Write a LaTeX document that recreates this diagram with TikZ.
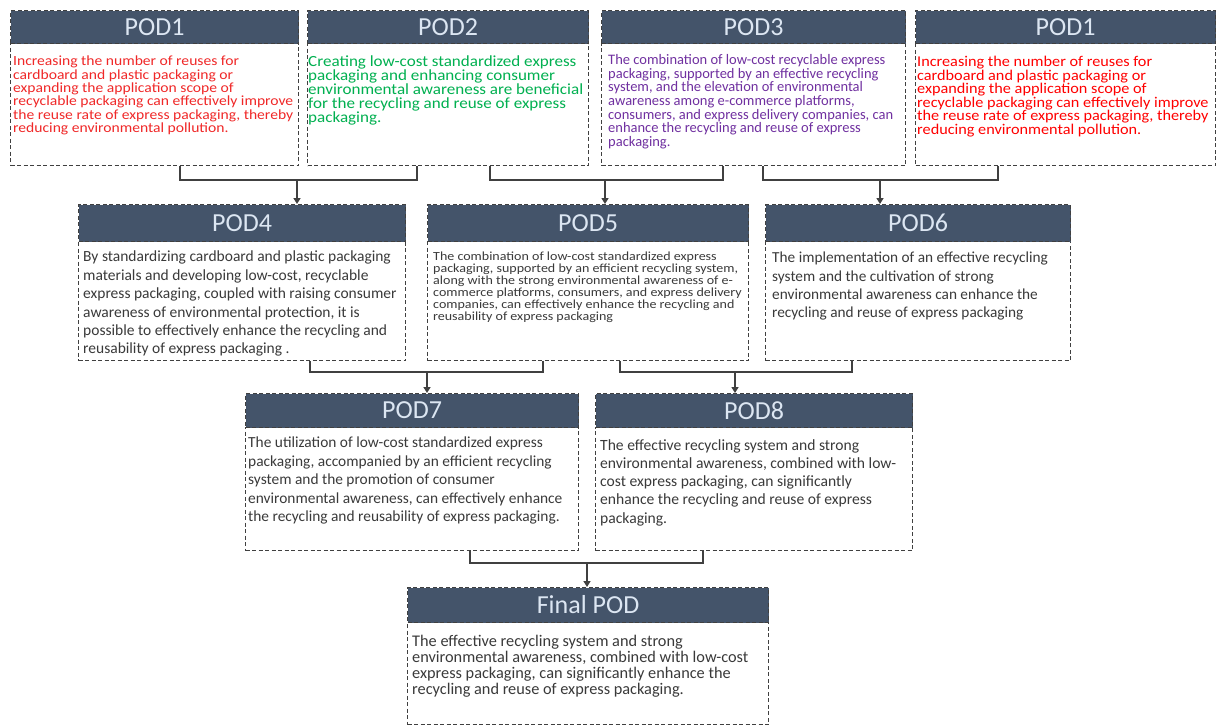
\documentclass[tikz,border=0pt]{standalone}
\usepackage{fontspec}
\setmainfont{Carlito}
\newfontfamily\stretchA[FakeStretch=1.115]{Carlito}
\newfontfamily\stretchB[FakeStretch=1.10]{Carlito}
\newfontfamily\stretchC[FakeStretch=1.09]{Carlito}
\newfontfamily\stretchD[FakeStretch=1.13]{Carlito}
\usetikzlibrary{arrows.meta,calc}
\definecolor{hdrfill}{HTML}{44546A}
\definecolor{hdrtext}{HTML}{DCE6F2}
\definecolor{bodytext}{HTML}{3A3A3A}
\definecolor{lineclr}{HTML}{404040}
\definecolor{podred}{HTML}{F02828}
\definecolor{podredb}{HTML}{FF0000}
\definecolor{podgreen}{HTML}{00B050}
\definecolor{podpurple}{HTML}{7030A0}
\tikzset{
  frame/.style={draw=lineclr, line width=1.1pt, dash pattern=on 4pt off 2.5pt, inner sep=0pt, anchor=north west},
  hdr/.style={frame, fill=hdrfill, text=hdrtext, font=\fontsize{26}{28}\selectfont},
  bodybox/.style={frame, fill=white},
  txt/.style={anchor=north west, inner sep=0pt, align=left},
  conn/.style={draw=lineclr, line width=1.5pt},
  arr/.style={draw=lineclr, line width=1.5pt, -{Triangle[width=7pt,length=6pt]}}
}
\begin{document}
\begin{tikzpicture}[x=1pt,y=-1pt]
\useasboundingbox (0,0) rectangle (1217,726);
% ---------- top row ----------
\node[bodybox, minimum width=288pt, minimum height=122pt] (b1) at (10,43) {};
\node[hdr, minimum width=288pt, minimum height=33pt] (h1) at (10,10) {POD1};
\node[txt, text=podred, font=\stretchA\fontsize{14}{13.3}\selectfont] (t1) at (13,56) {Increasing the number of reuses for\\cardboard and plastic packaging or\\expanding the application scope of\\recyclable packaging can effectively improve\\the reuse rate of express packaging, thereby\\reducing environmental pollution.};

\node[bodybox, minimum width=281pt, minimum height=122pt] (b2) at (307,43) {};
\node[hdr, minimum width=281pt, minimum height=33pt] (h2) at (307,10) {POD2};
\node[txt, text=podgreen, font=\stretchB\fontsize{15.5}{14}\selectfont] (t2) at (308,56) {Creating low-cost standardized express\\packaging and enhancing consumer\\environmental awareness are beneficial\\for the recycling and reuse of express\\packaging.};

\node[bodybox, minimum width=304pt, minimum height=122pt] (b3) at (601,43) {};
\node[hdr, minimum width=304pt, minimum height=33pt] (h3) at (601,10) {POD3};
\node[txt, text=podpurple, font=\fontsize{14.5}{13.6}\selectfont] (t3) at (608,54.5) {The combination of low-cost recyclable express\\packaging, supported by an effective recycling\\system, and the elevation of environmental\\awareness among e-commerce platforms,\\consumers, and express delivery companies, can\\enhance the recycling and reuse of express\\packaging.};

\node[bodybox, minimum width=300pt, minimum height=122pt] (b1r) at (915,43) {};
\node[hdr, minimum width=300pt, minimum height=33pt] (h1r) at (915,10) {POD1};
\node[txt, text=podredb, font=\stretchC\fontsize{14.9}{13.6}\selectfont] (t1r) at (917,56) {Increasing the number of reuses for\\cardboard and plastic packaging or\\expanding the application scope of\\recyclable packaging can effectively improve\\the reuse rate of express packaging, thereby\\reducing environmental pollution.};

% ---------- second row ----------
\node[bodybox, minimum width=327pt, minimum height=119pt] (b4) at (78,241) {};
\node[hdr, minimum width=327pt, minimum height=37pt] (h4) at (78,204) {POD4};
\node[txt, text=bodytext, font=\fontsize{15.5}{18.4}\selectfont] (t4) at (83,251) {By standardizing cardboard and plastic packaging\\materials and developing low-cost, recyclable\\express packaging, coupled with raising consumer\\awareness of environmental protection, it is\\possible to effectively enhance the recycling and\\reusability of express packaging .};

\node[bodybox, minimum width=321pt, minimum height=119pt] (b5) at (427,241) {};
\node[hdr, minimum width=321pt, minimum height=37pt] (h5) at (427,204) {POD5};
\node[txt, text=bodytext, font=\stretchD\fontsize{12.4}{12}\selectfont] (t5) at (433,252) {The combination of low-cost standardized express\\packaging, supported by an efficient recycling system,\\along with the strong environmental awareness of e-\\commerce platforms, consumers, and express delivery\\companies, can effectively enhance the recycling and\\reusability of express packaging};

\node[bodybox, minimum width=305pt, minimum height=119pt] (b6) at (765,241) {};
\node[hdr, minimum width=305pt, minimum height=37pt] (h6) at (765,204) {POD6};
\node[txt, text=bodytext, font=\fontsize{15.3}{18.3}\selectfont] (t6) at (772,252) {The implementation of an effective recycling\\system and the cultivation of strong\\environmental awareness can enhance the\\recycling and reuse of express packaging};

% ---------- third row ----------
\node[bodybox, minimum width=333pt, minimum height=123pt] (b7) at (245,427) {};
\node[hdr, minimum width=333pt, minimum height=34pt] (h7) at (245,393) {POD7};
\node[txt, text=bodytext, font=\fontsize{15.4}{18.5}\selectfont] (t7) at (248,437) {The utilization of low-cost standardized express\\packaging, accompanied by an efficient recycling\\system and the promotion of consumer\\environmental awareness, can effectively enhance\\the recycling and reusability of express packaging.};

\node[bodybox, minimum width=317pt, minimum height=123pt] (b8) at (595,427) {};
\node[hdr, minimum width=317pt, minimum height=34pt] (h8) at (595,393) {POD8};
\node[txt, text=bodytext, font=\fontsize{15.6}{18.3}\selectfont] (t8) at (600,439) {The effective recycling system and strong\\environmental awareness, combined with low-\\cost express packaging, can significantly\\enhance the recycling and reuse of express\\packaging.};

% ---------- final ----------
\node[bodybox, minimum width=361pt, minimum height=102pt] (bf) at (407,622) {};
\node[hdr, minimum width=361pt, minimum height=35pt] (hf) at (407,587) {Final POD};
\node[txt, text=bodytext, font=\fontsize{16.3}{16}\selectfont] (tf) at (412,635) {The effective recycling system and strong\\environmental awareness, combined with low-cost\\express packaging, can significantly enhance the\\recycling and reuse of express packaging.};

% ---------- connectors ----------
\coordinate (j1) at (297,180);
\draw[conn] ($(b1.south west)+(170,0)$) |- (j1) -| ($(b2.south west)+(110,0)$);
\draw[arr] (j1) -- (j1 |- h4.north);

\coordinate (j2) at (605,180);
\draw[conn] ($(b2.south west)+(183,0)$) |- (j2) -| ($(b3.south west)+(122,0)$);
\draw[arr] (j2) -- (j2 |- h5.north);

\coordinate (j3) at (880,180);
\draw[conn] ($(b3.south west)+(162,0)$) |- (j3) -| ($(b1r.south west)+(83,0)$);
\draw[arr] (j3) -- (j3 |- h6.north);

\coordinate (j4) at (427,372);
\draw[conn] ($(b4.south west)+(232,0)$) |- (j4) -| ($(b5.south west)+(116,0)$);
\draw[arr] (j4) -- (j4 |- h7.north);

\coordinate (j5) at (735,372);
\draw[conn] ($(b5.south west)+(193,0)$) |- (j5) -| ($(b6.south west)+(87,0)$);
\draw[arr] (j5) -- (j5 |- h8.north);

\coordinate (j6) at (587,563);
\draw[conn] ($(b7.south west)+(225,0)$) |- (j6) -| ($(b8.south west)+(108,0)$);
\draw[arr] (j6) -- (j6 |- hf.north);
\end{tikzpicture}
\end{document}
